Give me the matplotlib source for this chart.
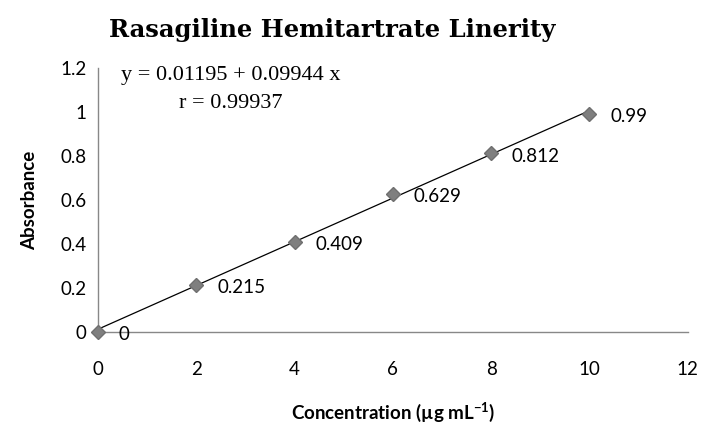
import matplotlib
matplotlib.use("Agg")
import matplotlib.pyplot as plt

plt.rcParams["mathtext.default"] = "regular"

# concentration (ug/mL) vs absorbance
conc = [0, 2, 4, 6, 8, 10]
absorbance = [0, 0.215, 0.409, 0.629, 0.812, 0.99]
point_labels = ["0", "0.215", "0.409", "0.629", "0.812", "0.99"]
intercept = 0.01195
slope = 0.09944
r_value = 0.99937

fig = plt.figure(figsize=(7.04, 4.25), dpi=100)
ax = fig.add_axes([0.139, 0.219, 0.838, 0.621])

fit_x = [conc[0], conc[-1]]
fit_y = [intercept + slope * x for x in fit_x]
ax.plot(fit_x, fit_y, color="black", lw=0.9, zorder=2)
ax.plot(conc, absorbance, ls="none", marker="D", ms=7.5, color="#7f7f7f",
        markeredgecolor="#6f6f6f", zorder=3, clip_on=False)

for x, y, s in zip(conc, absorbance, point_labels):
    ax.annotate(s, (x, y), xytext=(15, -2), textcoords="offset points",
                va="center", ha="left", fontsize=13.5, family="Lato")

ax.set_xlim(0, 12)
ax.set_ylim(0, 1.2)
ax.set_xticks([0, 2, 4, 6, 8, 10, 12])
ax.set_yticks([0, 0.2, 0.4, 0.6, 0.8, 1, 1.2])
ax.set_yticklabels(["0", "0.2", "0.4", "0.6", "0.8", "1", "1.2"])
ax.tick_params(length=0, labelsize=13.5)
ax.tick_params(axis="y", pad=8)
ax.tick_params(axis="x", pad=21)
for lab in ax.get_xticklabels() + ax.get_yticklabels():
    lab.set_family("Lato")
for side in ("top", "right"):
    ax.spines[side].set_visible(False)
for side in ("left", "bottom"):
    ax.spines[side].set_color("#888888")
    ax.spines[side].set_linewidth(1)

ax.set_xlabel("Concentration (\u00b5g mL$^{-1}$)", fontsize=13.5,
              fontweight="bold", family="Lato", labelpad=16)
ax.set_ylabel("Absorbance", fontsize=13.5, fontweight="bold", family="Lato",
              labelpad=16)

fig.text(0.472, 0.93, "Rasagiline Hemitartrate Linerity", ha="center",
         va="center", fontsize=17.5, fontweight="bold", family="DejaVu Serif")

ax.text(0.225, 0.97, f"y = {intercept} + {slope} x", transform=ax.transAxes,
        ha="center", va="center", fontsize=16, family="Liberation Serif")
ax.text(0.225, 0.865, f"r = {r_value}", transform=ax.transAxes,
        ha="center", va="center", fontsize=16, family="Liberation Serif")

fig.savefig("out.png", dpi=100)
